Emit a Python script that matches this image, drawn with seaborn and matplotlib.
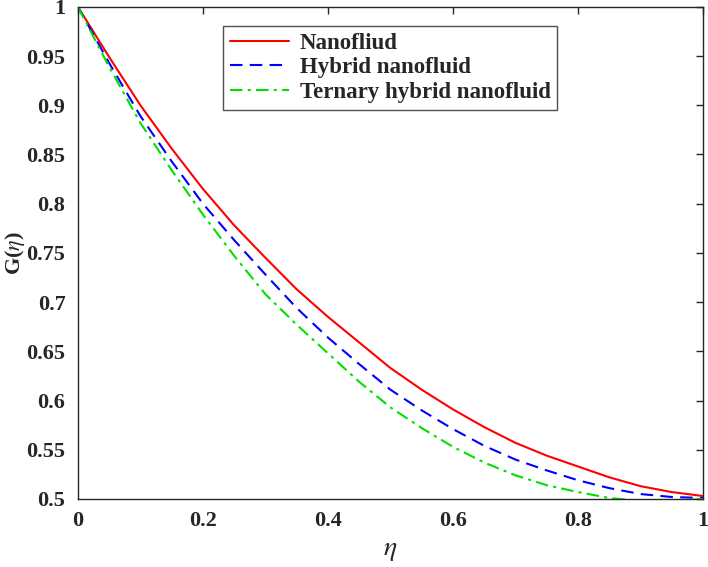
import matplotlib
matplotlib.use("Agg")
import matplotlib.pyplot as plt
import seaborn as sns
import numpy as np
import pandas as pd

eta = [0.0, 0.05, 0.1, 0.15, 0.2, 0.25, 0.3, 0.35, 0.4, 0.45, 0.5,
       0.55, 0.6, 0.65, 0.7, 0.75, 0.8, 0.85, 0.9, 0.95, 1.0]
nanofluid = [1.0, 0.949, 0.900, 0.856, 0.815, 0.778, 0.745, 0.713, 0.685, 0.659, 0.633,
             0.611, 0.591, 0.573, 0.557, 0.544, 0.533, 0.522, 0.513, 0.507, 0.503]
hybrid = [1.0, 0.943, 0.889, 0.843, 0.800, 0.763, 0.728, 0.694, 0.664, 0.637, 0.611,
          0.590, 0.571, 0.554, 0.540, 0.529, 0.519, 0.511, 0.505, 0.502, 0.501]
ternary = [1.0, 0.939, 0.882, 0.834, 0.789, 0.747, 0.708, 0.677, 0.648, 0.619, 0.593,
           0.572, 0.553, 0.537, 0.524, 0.514, 0.507, 0.501, 0.498, 0.498, 0.500]
labels = ["Nanofliud", "Hybrid nanofluid", "Ternary hybrid nanofluid"]
xticks = [0, 0.2, 0.4, 0.6, 0.8, 1]
xticklabels = ["0", "0.2", "0.4", "0.6", "0.8", "1"]
yticks = [0.5, 0.55, 0.6, 0.65, 0.7, 0.75, 0.8, 0.85, 0.9, 0.95, 1]
yticklabels = ["0.5", "0.55", "0.6", "0.65", "0.7", "0.75", "0.8", "0.85", "0.9", "0.95", "1"]

sns.set_theme(style="white")
plt.rcParams['font.family'] = ['Liberation Serif', 'DejaVu Serif']
plt.rcParams['mathtext.fontset'] = 'stix'

fig = plt.figure(figsize=(7.08, 5.67), dpi=100)
ax = fig.add_axes([0.110, 0.120, 0.883, 0.868])

styles = [
    dict(color="#ff0000", linestyle="-"),
    dict(color="#0000ff", linestyle=(0, (6, 3.5))),
    dict(color="#00e000", linestyle=(0, (6, 2.5, 1.5, 2.5))),
]
for series, lab, st in zip([nanofluid, hybrid, ternary], labels, styles):
    df = pd.DataFrame({"eta": eta, "G": series})
    sns.lineplot(data=df, x="eta", y="G", ax=ax, label=lab, linewidth=1.5,
                 color=st["color"], linestyle=st["linestyle"])

ax.set_xlim(0, 1)
ax.set_ylim(0.5, 1)
ax.set_xticks(xticks)
ax.set_xticklabels(xticklabels)
ax.set_yticks(yticks)
ax.set_yticklabels(yticklabels)
ax.tick_params(direction="in", length=5, width=1, top=True, right=True,
               labelsize=16, colors="#262626", pad=9)
for lab in ax.get_xticklabels() + ax.get_yticklabels():
    lab.set_fontweight("bold")
    lab.set_family("Liberation Serif")
for sp in ax.spines.values():
    sp.set_color("#262626")
    sp.set_linewidth(1.0)

ax.set_xlabel(r"$\eta$", fontsize=20, color="#262626", va="center")
ax.xaxis.set_label_coords(0.5, -0.104)
ax.set_ylabel(r"G($\eta$)", fontsize=16, fontweight="bold", color="#262626", va="center")
ax.yaxis.set_label_coords(-0.100, 0.5)

leg = ax.legend(loc="upper left", bbox_to_anchor=(0.232, 0.961), frameon=True,
                fancybox=False, edgecolor="#262626", handlelength=2.6,
                prop=dict(family="Liberation Serif", weight="bold", size=16.5),
                borderpad=0.3, labelspacing=0.15, handletextpad=0.45,
                borderaxespad=0)
leg.get_frame().set_linewidth(1.0)

fig.savefig("out.png", dpi=100)
